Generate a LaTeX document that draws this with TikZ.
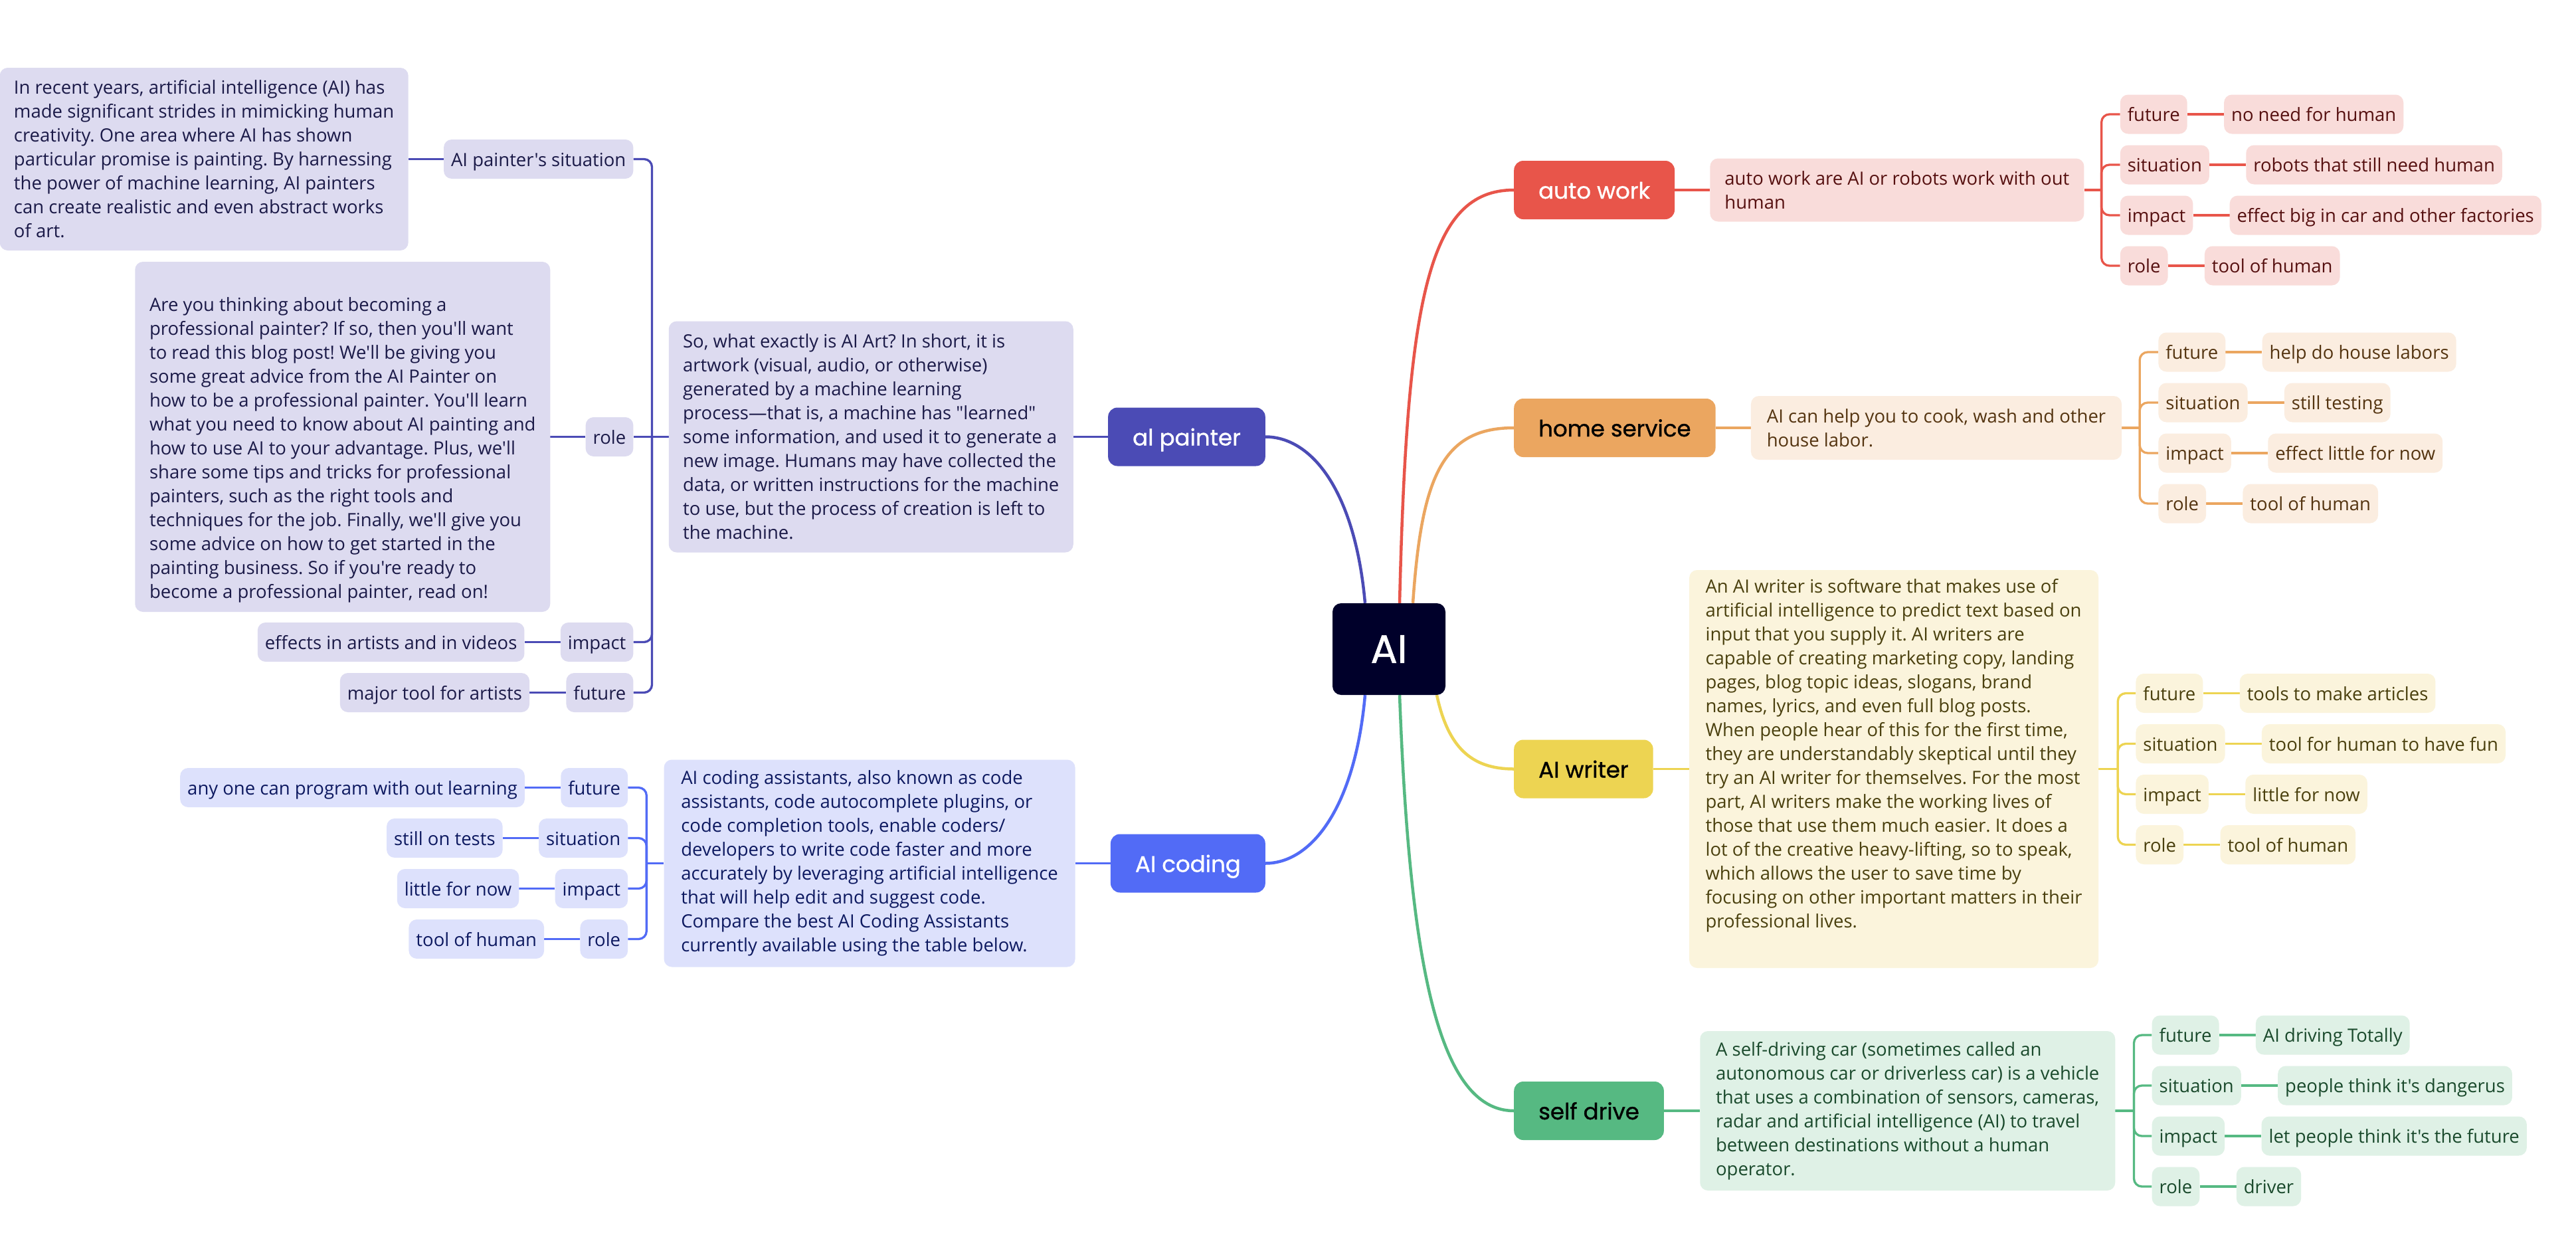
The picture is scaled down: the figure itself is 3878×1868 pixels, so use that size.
\documentclass[tikz,border=0pt]{standalone}
\usepackage{fontspec}
\setmainfont{Open Sans}[Ligatures=TeXOff]
\newfontfamily\topicfont{Poppins}[FakeBold=1]
\usetikzlibrary{positioning,calc,backgrounds}

% palette: one strong, one light and one text colour per branch
\definecolor{rootfill}{HTML}{00002A}
\definecolor{ptrMain}{HTML}{4B4BB5}
\definecolor{ptrLight}{HTML}{DDDBF0}
\definecolor{ptrText}{HTML}{1B1A48}
\definecolor{codMain}{HTML}{526BF6}
\definecolor{codLight}{HTML}{DDE1FC}
\definecolor{codText}{HTML}{0D1960}
\definecolor{autMain}{HTML}{E8554A}
\definecolor{autLight}{HTML}{F9DCDA}
\definecolor{autText}{HTML}{561010}
\definecolor{homMain}{HTML}{EBA660}
\definecolor{homLight}{HTML}{FBEDE0}
\definecolor{homText}{HTML}{543410}
\definecolor{wriMain}{HTML}{EDD452}
\definecolor{wriLight}{HTML}{FBF4DC}
\definecolor{wriText}{HTML}{4A400E}
\definecolor{selMain}{HTML}{56B982}
\definecolor{selLight}{HTML}{DFF1E6}
\definecolor{selText}{HTML}{1A4A2C}

\newcommand{\bodysize}{\fontsize{27.5pt}{36pt}\selectfont}
\frenchspacing

\begin{document}
\begin{tikzpicture}[x=1pt,y=-1pt,
  rootbox/.style={fill=rootfill, text=white, rounded corners=13pt,
    minimum width=170pt, minimum height=138pt, inner sep=0pt,
    font=\topicfont\fontsize{60pt}{72pt}\selectfont},
  topicbox/.style={fill=#1, rounded corners=14pt, minimum height=88pt,
    inner xsep=37pt, inner ysep=0pt, text height=26pt, text depth=0pt,
    font=\topicfont\fontsize{34pt}{40pt}\selectfont},
  descbox/.style={rounded corners=12pt, inner xsep=12pt, inner ysep=0pt,
    align=left, font=\bodysize},
  tagbox/.style={rounded corners=12pt, inner xsep=11pt, inner ysep=0pt,
    minimum height=59pt, text height=21pt, text depth=0pt, font=\bodysize},
  trunk/.style={line width=4.5pt},
  twig/.style={line width=3.3pt},
  elbow/.style={line width=3.3pt, rounded corners=12pt},
  ptr/.style={fill=ptrLight, text=ptrText},
  cod/.style={fill=codLight, text=codText},
  aut/.style={fill=autLight, text=autText},
  hom/.style={fill=homLight, text=homText},
  wri/.style={fill=wriLight, text=wriText},
  sel/.style={fill=selLight, text=selText}]

\useasboundingbox (0,0) rectangle (3878,1868);
\begin{scope}[on background layer]
  \fill[white] (0,0) rectangle (3878,1868);
\end{scope}

% ---------- central topic ----------
\node[rootbox] (root) at (2091,977) {AI};

% ---------- main topics ----------
\node[topicbox=ptrMain, text=white, anchor=east] (painter) at (1905,657.5) {al painter};
\node[topicbox=codMain, text=white, anchor=east] (coding)  at (1905,1299.5) {AI coding};
\node[topicbox=autMain, text=white, anchor=west] (auto)    at (2279,286) {auto work};
\node[topicbox=homMain, text=black, anchor=west] (home)    at (2279,644) {home service};
\node[topicbox=wriMain, text=black, anchor=west] (writer)  at (2279,1157.5) {AI writer};
\node[topicbox=selMain, text=black, anchor=west] (self)    at (2279,1672) {self drive};

% ---------- al painter ----------
\node[descbox, ptr, minimum width=609pt, minimum height=348pt, left=52pt of painter] (pdesc)
 {So, what exactly is AI Art? In short, it is\\
  artwork (visual, audio, or otherwise)\\
  generated by a machine learning\\
  process—that is, a machine has "learned"\\
  some information, and used it to generate a\\
  new image. Humans may have collected the\\
  data, or written instructions for the machine\\
  to use, but the process of creation is left to\\
  the machine.};
\node[tagbox, ptr, anchor=east] (psit)  at ($(pdesc.west)+(-53,-418)$) {AI painter's situation};
\node[tagbox, ptr, anchor=east] (prole) at ($(pdesc.west)+(-53,0)$) {role};
\node[tagbox, ptr, anchor=east] (pimp)  at ($(pdesc.west)+(-53,309)$) {impact};
\node[tagbox, ptr, anchor=east] (pfut)  at ($(pdesc.west)+(-53,385)$) {future};
\node[descbox, ptr, minimum width=615pt, minimum height=275pt, left=53pt of psit] (psitL)
 {In recent years, artificial intelligence (AI) has\\
  made significant strides in mimicking human\\
  creativity. One area where AI has shown\\
  particular promise is painting. By harnessing\\
  the power of machine learning, AI painters\\
  can create realistic and even abstract works\\
  of art.};
\node[descbox, ptr, minimum width=625pt, minimum height=527pt, left=53pt of prole] (proleL)
 {\strut\\
  Are you thinking about becoming a\\
  professional painter? If so, then you'll want\\
  to read this blog post! We'll be giving you\\
  some great advice from the AI Painter on\\
  how to be a professional painter. You'll learn\\
  what you need to know about AI painting and\\
  how to use AI to your advantage. Plus, we'll\\
  share some tips and tricks for professional\\
  painters, such as the right tools and\\
  techniques for the job. Finally, we'll give you\\
  some advice on how to get started in the\\
  painting business. So if you're ready to\\
  become a professional painter, read on!};
\node[tagbox, ptr, left=54pt of pimp] (pimpL) {effects in artists and in videos};
\node[tagbox, ptr, left=55pt of pfut] (pfutL) {major tool for artists};

% ---------- AI coding ----------
\node[descbox, cod, minimum width=619pt, minimum height=312pt, left=53pt of coding] (cdesc)
 {AI coding assistants, also known as code\\
  assistants, code autocomplete plugins, or\\
  code completion tools, enable coders/\\
  developers to write code faster and more\\
  accurately by leveraging artificial intelligence\\
  that will help edit and suggest code.\\
  Compare the best AI Coding Assistants\\
  currently available using the table below.};
\node[tagbox, cod, anchor=east] (cfut)  at ($(cdesc.west)+(-54,-114)$) {future};
\node[tagbox, cod, anchor=east] (csit)  at ($(cdesc.west)+(-54,-38)$) {situation};
\node[tagbox, cod, anchor=east] (cimp)  at ($(cdesc.west)+(-54,38)$) {impact};
\node[tagbox, cod, anchor=east] (crole) at ($(cdesc.west)+(-54,114)$) {role};
\node[tagbox, cod, left=54pt of cfut]  (cfutL)  {any one can program with out learning};
\node[tagbox, cod, left=54pt of csit]  (csitL)  {still on tests};
\node[tagbox, cod, left=54pt of cimp]  (cimpL)  {little for now};
\node[tagbox, cod, left=54pt of crole] (croleL) {tool of human};

% ---------- auto work ----------
\node[descbox, aut, minimum width=563pt, minimum height=95pt, right=53pt of auto] (adesc)
 {auto work are AI or robots work with out\\ human};
\node[tagbox, aut, anchor=west] (afut)  at ($(adesc.east)+(54,-114)$) {future};
\node[tagbox, aut, anchor=west] (asit)  at ($(adesc.east)+(54,-38)$) {situation};
\node[tagbox, aut, anchor=west] (aimp)  at ($(adesc.east)+(54,38)$) {impact};
\node[tagbox, aut, anchor=west] (arole) at ($(adesc.east)+(54,114)$) {role};
\node[tagbox, aut, right=55pt of afut]  (afutL)  {no need for human};
\node[tagbox, aut, right=55pt of asit]  (asitL)  {robots that still need human};
\node[tagbox, aut, right=55pt of aimp]  (aimpL)  {effect big in car and other factories};
\node[tagbox, aut, right=55pt of arole] (aroleL) {tool of human};

% ---------- home service ----------
\node[descbox, hom, minimum width=558pt, minimum height=96pt, right=53pt of home] (hdesc)
 {AI can help you to cook, wash and other\\ house labor.};
\node[tagbox, hom, anchor=west] (hfut)  at ($(hdesc.east)+(55,-114)$) {future};
\node[tagbox, hom, anchor=west] (hsit)  at ($(hdesc.east)+(55,-38)$) {situation};
\node[tagbox, hom, anchor=west] (himp)  at ($(hdesc.east)+(55,38)$) {impact};
\node[tagbox, hom, anchor=west] (hrole) at ($(hdesc.east)+(55,114)$) {role};
\node[tagbox, hom, right=55pt of hfut]  (hfutL)  {help do house labors};
\node[tagbox, hom, right=55pt of hsit]  (hsitL)  {still testing};
\node[tagbox, hom, right=55pt of himp]  (himpL)  {effect little for now};
\node[tagbox, hom, right=55pt of hrole] (hroleL) {tool of human};

% ---------- AI writer ----------
\node[descbox, wri, minimum width=616pt, minimum height=599pt, right=54pt of writer] (wdesc)
 {An AI writer is software that makes use of\\
  artificial intelligence to predict text based on\\
  input that you supply it. AI writers are\\
  capable of creating marketing copy, landing\\
  pages, blog topic ideas, slogans, brand\\
  names, lyrics, and even full blog posts.\\
  When people hear of this for the first time,\\
  they are understandably skeptical until they\\
  try an AI writer for themselves. For the most\\
  part, AI writers make the working lives of\\
  those that use them much easier. It does a\\
  lot of the creative heavy-lifting, so to speak,\\
  which allows the user to save time by\\
  focusing on other important matters in their\\
  professional lives.\\ \strut};
\node[tagbox, wri, anchor=west] (wfut)  at ($(wdesc.east)+(56,-114)$) {future};
\node[tagbox, wri, anchor=west] (wsit)  at ($(wdesc.east)+(56,-38)$) {situation};
\node[tagbox, wri, anchor=west] (wimp)  at ($(wdesc.east)+(56,38)$) {impact};
\node[tagbox, wri, anchor=west] (wrole) at ($(wdesc.east)+(56,114)$) {role};
\node[tagbox, wri, right=55pt of wfut]  (wfutL)  {tools to make articles};
\node[tagbox, wri, right=55pt of wsit]  (wsitL)  {tool for human to have fun};
\node[tagbox, wri, right=55pt of wimp]  (wimpL)  {little for now};
\node[tagbox, wri, right=55pt of wrole] (wroleL) {tool of human};

% ---------- self drive ----------
\node[descbox, sel, minimum width=625pt, minimum height=240pt, right=54pt of self] (sdesc)
 {A self-driving car (sometimes called an\\
  autonomous car or driverless car) is a vehicle\\
  that uses a combination of sensors, cameras,\\
  radar and artificial intelligence (AI) to travel\\
  between destinations without a human\\
  operator.};
\node[tagbox, sel, anchor=west] (sfut)  at ($(sdesc.east)+(55,-114)$) {future};
\node[tagbox, sel, anchor=west] (ssit)  at ($(sdesc.east)+(55,-38)$) {situation};
\node[tagbox, sel, anchor=west] (simp)  at ($(sdesc.east)+(55,38)$) {impact};
\node[tagbox, sel, anchor=west] (srole) at ($(sdesc.east)+(55,114)$) {role};
\node[tagbox, sel, right=55pt of sfut]  (sfutL)  {AI driving Totally};
\node[tagbox, sel, right=55pt of ssit]  (ssitL)  {people think it's dangerus};
\node[tagbox, sel, right=55pt of simp]  (simpL)  {let people think it's the future};
\node[tagbox, sel, right=55pt of srole] (sroleL) {driver};

% ---------- connectors ----------
\begin{scope}[on background layer]
  % curved trunks from the central topic
  \draw[trunk, ptrMain] ([xshift=-36pt]root.north) .. controls +(-15,-168) and +(70,0) .. (painter.east);
  \draw[trunk, codMain] ([xshift=-36pt]root.south) .. controls +(-15,168) and +(70,0) .. (coding.east);
  \draw[trunk, autMain] ([xshift=16pt]root.north) .. controls +(11,-458) and +(-129,0) .. (auto.west);
  \draw[trunk, homMain] ([xshift=36pt]root.north) .. controls +(13,-188) and +(-109,0) .. (home.west);
  \draw[trunk, wriMain] ([xshift=72pt]root.south) .. controls +(17,79) and +(-64,0) .. (writer.west);
  \draw[trunk, selMain] ([xshift=16pt]root.south) .. controls +(15,404) and +(-114,0) .. (self.west);

  % topic to description
  \draw[twig, ptrMain] (painter.west) -- (pdesc.east);
  \draw[twig, codMain] (coding.west) -- (cdesc.east);
  \draw[twig, autMain] (auto.east) -- (adesc.west);
  \draw[twig, homMain] (home.east) -- (hdesc.west);
  \draw[twig, wriMain] (writer.east) -- (wdesc.west);
  \draw[twig, selMain] (self.east) -- (sdesc.west);

  % al painter bar
  \draw[twig, ptrMain] (pdesc.west) -- ++(-25,0) coordinate (pbar);
  \draw[elbow, ptrMain] (pbar) |- (psit.east);
  \draw[twig, ptrMain] (pbar) -- (prole.east);
  \draw[elbow, ptrMain] (pbar) |- (pimp.east);
  \draw[elbow, ptrMain] (pbar) |- (pfut.east);
  \draw[twig, ptrMain] (psit.west) -- (psitL.east);
  \draw[twig, ptrMain] (prole.west) -- (proleL.east);
  \draw[twig, ptrMain] (pimp.west) -- (pimpL.east);
  \draw[twig, ptrMain] (pfut.west) -- (pfutL.east);

  % AI coding bar
  \draw[twig, codMain] (cdesc.west) -- ++(-26,0) coordinate (cbar);
  \foreach \t in {cfut,csit,cimp,crole} {
    \draw[elbow, codMain] (cbar) |- (\t.east);
    \draw[twig, codMain] (\t.west) -- (\t L.east);
  }

  % auto work bar
  \draw[twig, autMain] (adesc.east) -- ++(26,0) coordinate (abar);
  \foreach \t in {afut,asit,aimp,arole} {
    \draw[elbow, autMain] (abar) |- (\t.west);
    \draw[twig, autMain] (\t.east) -- (\t L.west);
  }

  % home service bar
  \draw[twig, homMain] (hdesc.east) -- ++(27,0) coordinate (hbar);
  \foreach \t in {hfut,hsit,himp,hrole} {
    \draw[elbow, homMain] (hbar) |- (\t.west);
    \draw[twig, homMain] (\t.east) -- (\t L.west);
  }

  % AI writer bar
  \draw[twig, wriMain] (wdesc.east) -- ++(29,0) coordinate (wbar);
  \foreach \t in {wfut,wsit,wimp,wrole} {
    \draw[elbow, wriMain] (wbar) |- (\t.west);
    \draw[twig, wriMain] (\t.east) -- (\t L.west);
  }

  % self drive bar
  \draw[twig, selMain] (sdesc.east) -- ++(28,0) coordinate (sbar);
  \foreach \t in {sfut,ssit,simp,srole} {
    \draw[elbow, selMain] (sbar) |- (\t.west);
    \draw[twig, selMain] (\t.east) -- (\t L.west);
  }
\end{scope}
\end{tikzpicture}
\end{document}
